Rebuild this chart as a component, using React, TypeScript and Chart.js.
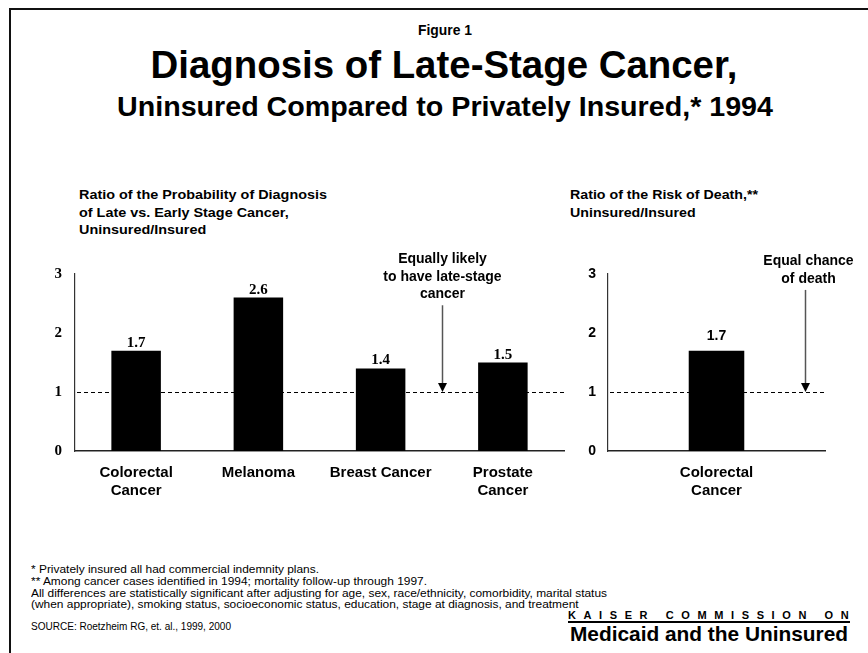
import React, { useEffect, useLayoutEffect, useRef } from "react";
import { Chart, registerables } from "chart.js";

Chart.register(...registerables);

// ---------- data ----------
const leftCategories: (string | string[])[] = [["Colorectal", "Cancer"], "Melanoma", "Breast Cancer", ["Prostate", "Cancer"]];
const leftValues = [1.7, 2.6, 1.4, 1.5];
const rightCategories: (string | string[])[] = [["Colorectal", "Cancer"]];
const rightValues = [1.7];
const yMin = 0;
const yMax = 3;
const yStep = 1;
const referenceValue = 1;

const leftNote = ["Equally likely", "to have late-stage", "cancer"];
const rightNote = ["Equal chance", "of death"];
// annotation anchor positions in data units (category index / value)
const leftArrowAt = 2.5;
const leftArrowTop = 2.47;
const rightArrowAt = 0.41;
const rightArrowTop = 2.73;

const figureLabel = "Figure 1";
const titleText = "Diagnosis of Late-Stage Cancer,";
const subtitleText = "Uninsured Compared to Privately Insured,* 1994";
const leftHeading = ["Ratio of the Probability of Diagnosis", "of Late vs. Early Stage Cancer,", "Uninsured/Insured"];
const rightHeading = ["Ratio of the Risk of Death,**", "Uninsured/Insured"];
const footnotes = [
  "* Privately insured all had commercial indemnity plans.",
  "** Among cancer cases identified in 1994; mortality follow-up through 1997.",
  "All differences are statistically significant after adjusting for age, sex, race/ethnicity, comorbidity, marital status",
  "(when appropriate), smoking status, socioeconomic status, education, stage at diagnosis, and treatment",
];
const sourceText = "SOURCE: Roetzheim RG, et. al., 1999, 2000";
const brandTop = "KAISER COMMISSION ON";
const brandBottom = "Medicaid and the Uninsured";

// ---------- styles ----------
const SANS = "'Liberation Sans', Arial, Helvetica, sans-serif";
const SERIF = "'Liberation Serif', 'Times New Roman', Times, serif";

const overlayPlugin = {
  id: "overlay",
  beforeDatasetsDraw(chart: any, _args: any, opts: any) {
    const { ctx, chartArea, scales } = chart;
    const y = Math.round(scales.y.getPixelForValue(opts.refValue)) + 0.5;
    ctx.save();
    ctx.strokeStyle = "#000";
    ctx.lineWidth = 1;
    ctx.setLineDash([4, 3]);
    ctx.beginPath();
    ctx.moveTo(chartArea.left + 2, y);
    ctx.lineTo(chartArea.right, y);
    ctx.stroke();
    ctx.restore();
  },
  afterDatasetsDraw(chart: any, _args: any, opts: any) {
    const { ctx, scales } = chart;
    const meta = chart.getDatasetMeta(0);
    const data = chart.data.datasets[0].data as number[];
    ctx.save();
    ctx.fillStyle = "#000";
    ctx.textAlign = "center";
    ctx.textBaseline = "alphabetic";
    ctx.font = opts.valueFont;
    meta.data.forEach((bar: any, i: number) => {
      ctx.fillText(data[i].toFixed(1), bar.x, bar.y - opts.valueGap);
    });
    // arrow
    const ax = Math.round(scales.x.getPixelForValue(opts.arrowAt)) + 0.5;
    const top = scales.y.getPixelForValue(opts.arrowTop);
    const tip = scales.y.getPixelForValue(opts.refValue);
    ctx.strokeStyle = "#555";
    ctx.lineWidth = 1.5;
    ctx.beginPath();
    ctx.moveTo(ax, top);
    ctx.lineTo(ax, tip - 7);
    ctx.stroke();
    ctx.fillStyle = "#000";
    ctx.beginPath();
    ctx.moveTo(ax - 4.5, tip - 9);
    ctx.lineTo(ax + 4.5, tip - 9);
    ctx.lineTo(ax, tip);
    ctx.closePath();
    ctx.fill();
    // note text
    ctx.font = `bold 14px ${SANS}`;
    ctx.textBaseline = "middle";
    const lines: string[] = opts.note;
    const n = lines.length;
    lines.forEach((l, i) => {
      ctx.fillText(l, ax + opts.noteDx, top - 11 - (n - 1 - i) * 17.5);
    });
    ctx.restore();
  },
};

function makeChart(
  canvas: HTMLCanvasElement,
  labels: (string | string[])[],
  values: number[],
  cfg: {
    barPct: number;
    yWidth: number;
    yPad: number;
    padRight: number;
    tickFont: any;
    valueFont: string;
    valueGap: number;
    arrowAt: number;
    arrowTop: number;
    note: string[];
    noteDx: number;
  }
) {
  return new Chart(canvas, {
    type: "bar",
    data: {
      labels,
      datasets: [
        {
          data: values,
          backgroundColor: "#000",
          borderWidth: 0,
          barPercentage: cfg.barPct,
          categoryPercentage: 1,
        },
      ],
    },
    options: {
      responsive: false,
      maintainAspectRatio: false,
      animation: false,
      layout: { padding: { left: 0, right: cfg.padRight, top: 24, bottom: 9 } },
      plugins: {
        legend: { display: false },
        tooltip: { enabled: false },
        overlay: {
          refValue: referenceValue,
          valueFont: cfg.valueFont,
          valueGap: cfg.valueGap,
          arrowAt: cfg.arrowAt,
          arrowTop: cfg.arrowTop,
          note: cfg.note,
          noteDx: cfg.noteDx,
        },
      } as any,
      scales: {
        x: {
          grid: { display: false, drawTicks: false },
          border: { display: true, color: "#222", width: 1.5 },
          ticks: {
            color: "#000",
            font: { family: SANS, size: 15, weight: "bold", lineHeight: 1.2 },
            padding: 13,
            maxRotation: 0,
            autoSkip: false,
          },
          afterFit: (s: any) => {
            s.height = 50;
          },
        },
        y: {
          min: yMin,
          max: yMax,
          grid: { display: false, drawTicks: false },
          border: { display: true, color: "#333", width: 1.2 },
          ticks: {
            stepSize: yStep,
            color: "#000",
            font: cfg.tickFont,
            padding: cfg.yPad,
          },
          afterFit: (s: any) => {
            s.width = cfg.yWidth;
          },
        },
      } as any,
    },
    plugins: [overlayPlugin as any],
  });
}

type TB = {
  x: number;
  y: number;
  lines: string[];
  size: number;
  lh: number;
  width?: number;
  align?: "left" | "center";
  bold?: boolean;
  ls?: number;
};

function TextBlock(p: TB) {
  const ref = useRef<HTMLDivElement>(null);
  useLayoutEffect(() => {
    const el = ref.current;
    if (!el || !p.width) return;
    el.style.transform = "none";
    const spans = Array.from(el.querySelectorAll("span")) as HTMLElement[];
    const w = Math.max(...spans.map((s) => s.getBoundingClientRect().width));
    if (w > 0) el.style.transform = `scaleX(${p.width / w})`;
  }, []);
  const align = p.align ?? "left";
  const style: React.CSSProperties = {
    position: "absolute",
    top: p.y - p.lh / 2,
    left: align === "center" ? p.x - 500 : p.x,
    width: align === "center" ? 1000 : undefined,
    textAlign: align,
    transformOrigin: align === "center" ? "50% 0" : "0 0",
    fontFamily: SANS,
    fontWeight: p.bold ? "bold" : "normal",
    fontSize: p.size,
    lineHeight: p.lh + "px",
    letterSpacing: p.ls ? p.ls + "px" : undefined,
    whiteSpace: "nowrap",
    color: "#000",
  };
  return (
    <div ref={ref} style={style}>
      {p.lines.map((l, i) => (
        <div key={i}>
          <span>{l}</span>
        </div>
      ))}
    </div>
  );
}

export default function App() {
  const leftRef = useRef<HTMLCanvasElement>(null);
  const rightRef = useRef<HTMLCanvasElement>(null);

  useEffect(() => {
    const c1 = makeChart(leftRef.current!, leftCategories, leftValues, {
      barPct: 0.405,
      yWidth: 45,
      yPad: 13,
      padRight: 11,
      tickFont: { family: SERIF, size: 15, weight: "bold" },
      valueFont: `bold 15px ${SERIF}`,
      valueGap: 4,
      arrowAt: leftArrowAt,
      arrowTop: leftArrowTop,
      note: leftNote,
      noteDx: 0,
    });
    const c2 = makeChart(rightRef.current!, rightCategories, rightValues, {
      barPct: 0.256,
      yWidth: 38,
      yPad: 12,
      padRight: 43,
      tickFont: { family: SANS, size: 14, weight: "bold" },
      valueFont: `bold 14px ${SANS}`,
      valueGap: 11,
      arrowAt: rightArrowAt,
      arrowTop: rightArrowTop,
      note: rightNote,
      noteDx: 3,
    });
    return () => {
      c1.destroy();
      c2.destroy();
    };
  }, []);

  return (
    <div
      style={{
        position: "absolute",
        left: 0,
        top: 0,
        width: 868,
        height: 653,
        overflow: "hidden",
        background: "#fff",
      }}
    >
      <div
        style={{
          position: "absolute",
          left: 9,
          top: 8,
          width: 900,
          height: 700,
          borderLeft: "2px solid #111",
          borderTop: "2px solid #111",
        }}
      />
      <TextBlock x={445} y={30} lines={[figureLabel]} size={14} lh={16} bold align="center" width={54} />
      <TextBlock x={443.5} y={65} lines={[titleText]} size={38} lh={44} bold align="center" width={587} />
      <TextBlock x={445} y={107} lines={[subtitleText]} size={27} lh={30} bold align="center" width={656} />

      <TextBlock x={79} y={195} lines={leftHeading} size={13.5} lh={17.5} bold width={248} />
      <TextBlock x={570} y={195} lines={rightHeading} size={13.5} lh={17.5} bold width={188} />

      <canvas
        ref={leftRef}
        width={545}
        height={260}
        style={{ position: "absolute", left: 30, top: 250, width: 545, height: 260 }}
      />
      <canvas
        ref={rightRef}
        width={298}
        height={260}
        style={{ position: "absolute", left: 570, top: 250, width: 298, height: 260 }}
      />

      <TextBlock x={31} y={570} lines={footnotes} size={10.5} lh={11.7} width={576} />
      <TextBlock x={31} y={627} lines={[sourceText]} size={10} lh={12} width={200} />

      <TextBlock x={568} y={615} lines={[brandTop]} size={11} lh={12} bold ls={7.6} />
      <div style={{ position: "absolute", left: 568, top: 621, width: 282, height: 2, background: "#000" }} />
      <TextBlock x={570} y={634} lines={[brandBottom]} size={21} lh={24} bold width={278} />
    </div>
  );
}
